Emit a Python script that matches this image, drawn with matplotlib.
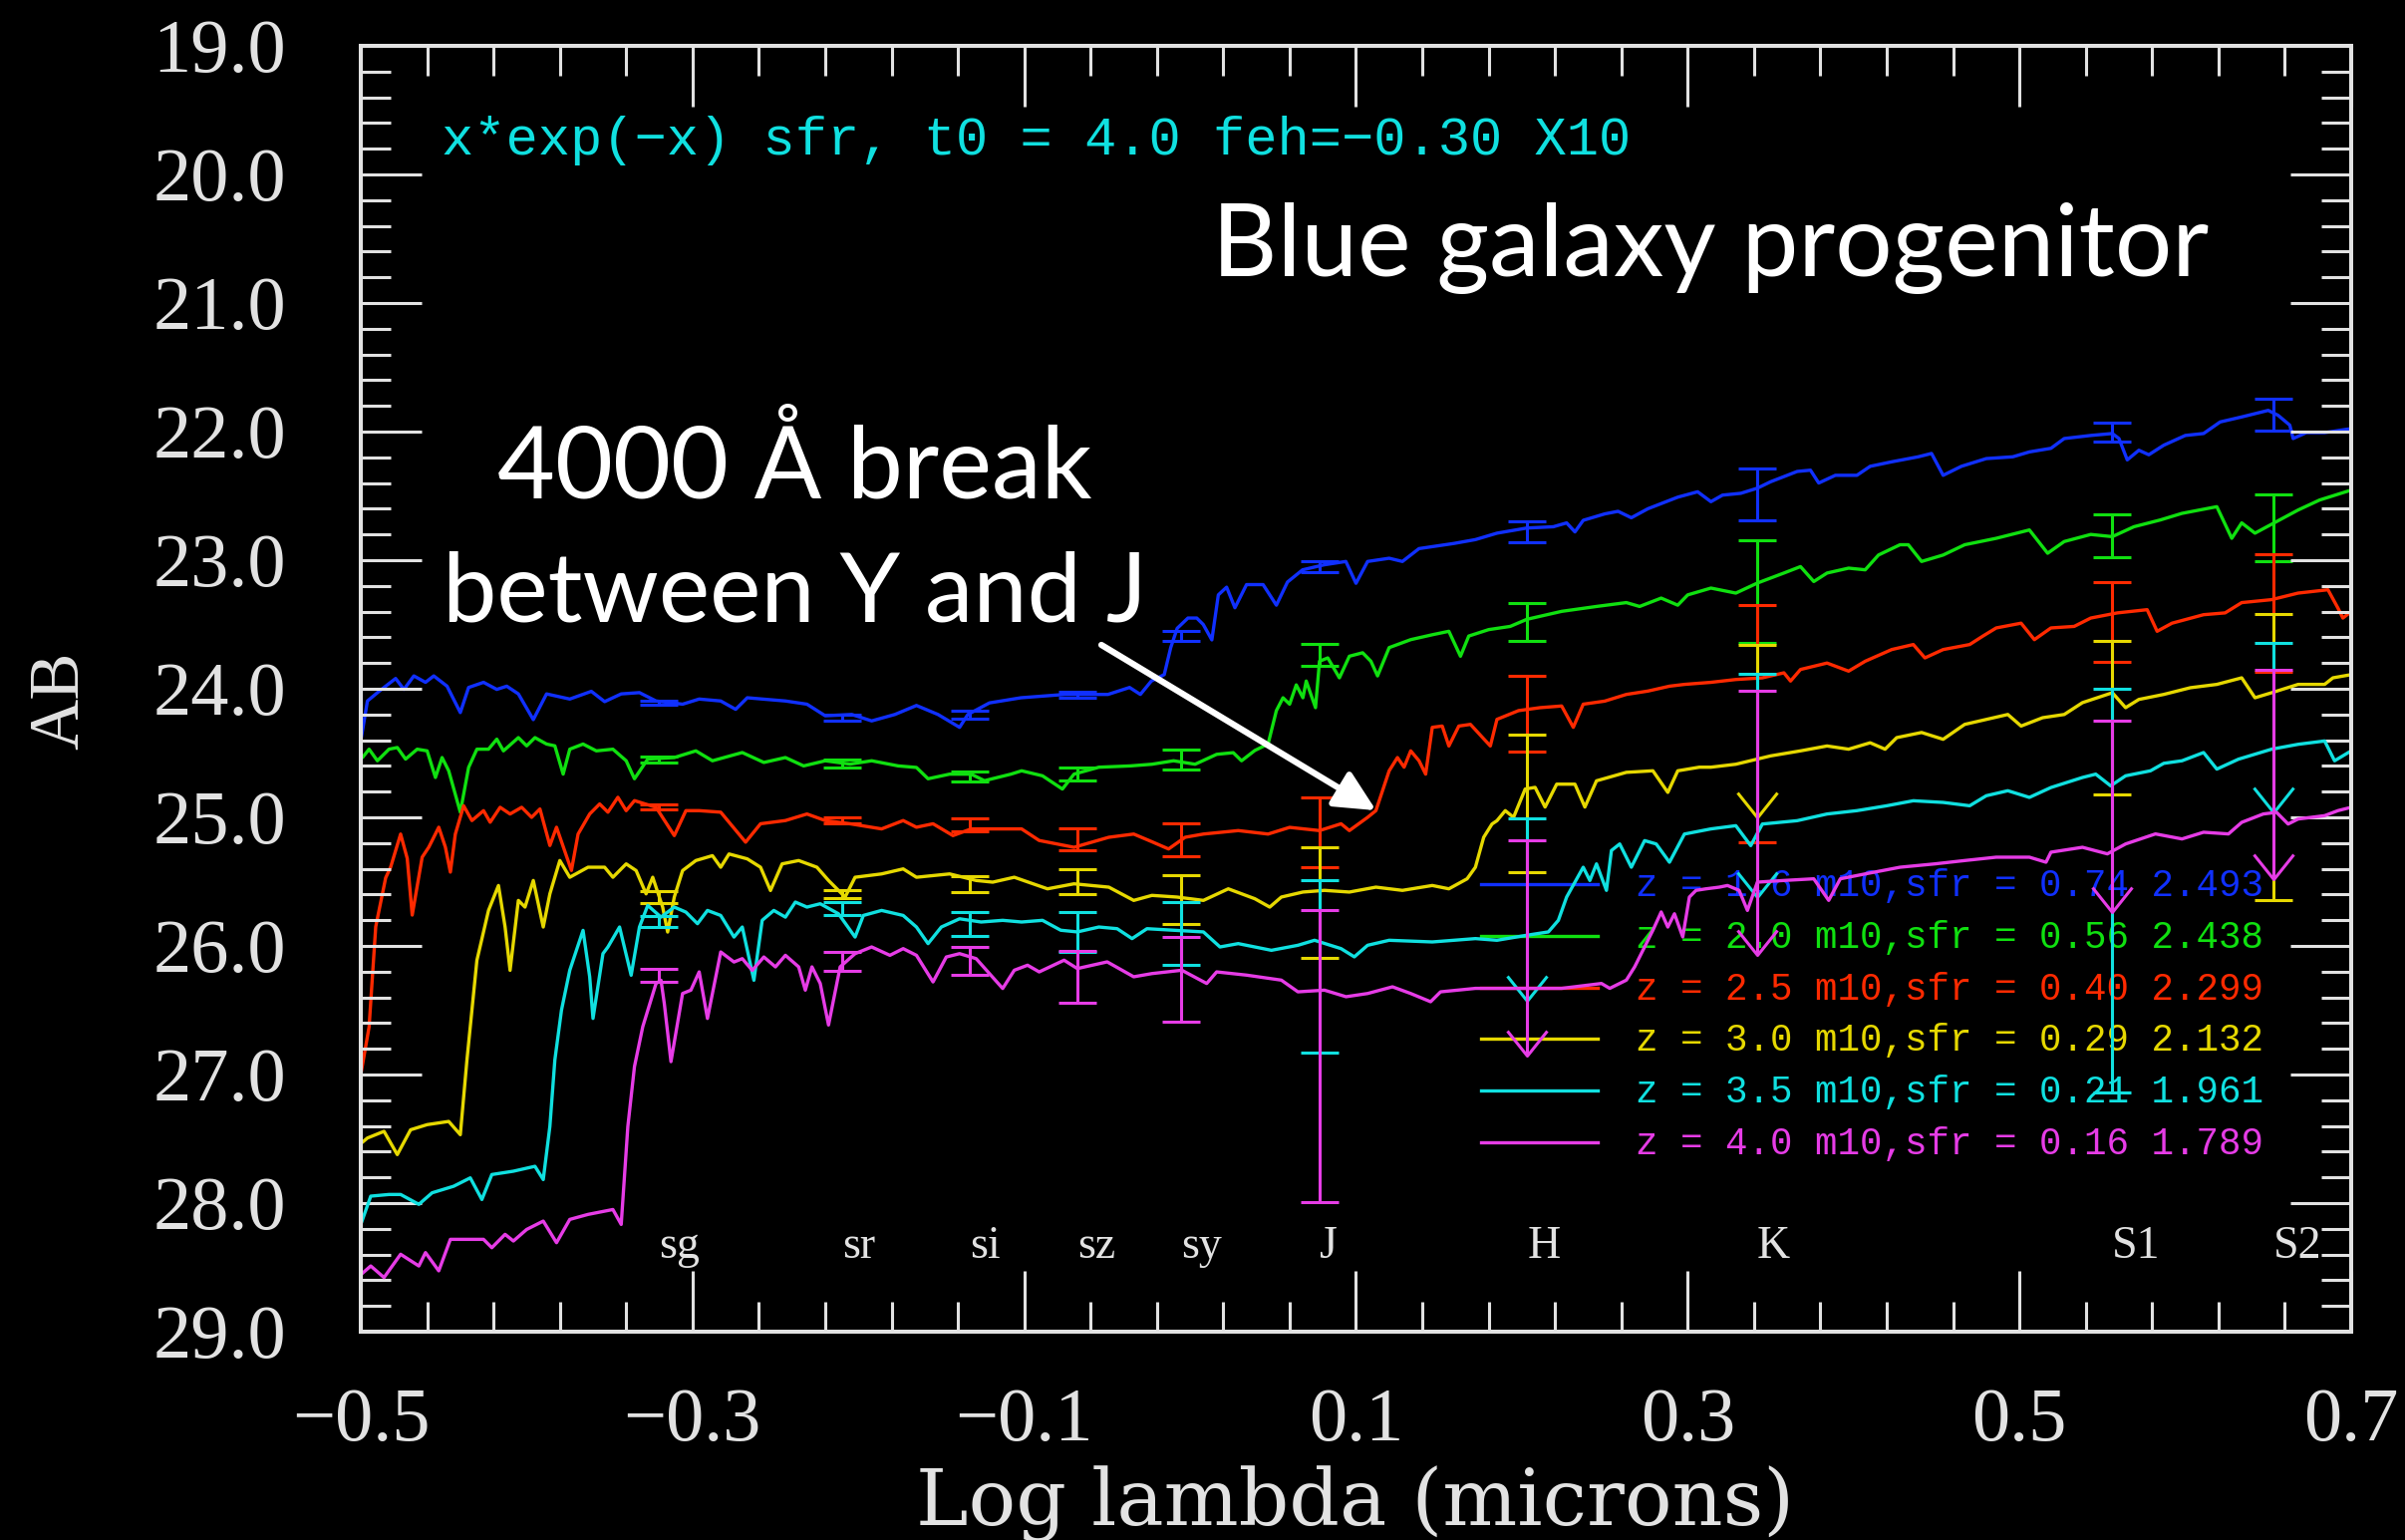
import numpy as np
import matplotlib
matplotlib.use("Agg")
import matplotlib.pyplot as plt
from matplotlib.path import Path
from matplotlib.markers import MarkerStyle
from matplotlib.ticker import FixedLocator, MultipleLocator, FuncFormatter

# ---------------------------------------------------------------- data
redshift = [1.6, 2.0, 2.5, 3.0, 3.5, 4.0]
m10_sfr = [0.74, 0.56, 0.40, 0.29, 0.21, 0.16]
log_sfr = [2.493, 2.438, 2.299, 2.132, 1.961, 1.789]
colors = ["#1030ff", "#10e010", "#ff2a00", "#e6d800", "#10e0e0", "#e63ce6"]

# model spectra: log wavelength (microns) and AB magnitude
z16_lam = [-0.500, -0.496, -0.489, -0.479, -0.474, -0.468, -0.461, -0.456, -0.448, -0.440,
           -0.435, -0.426, -0.418, -0.412, -0.405, -0.396, -0.388, -0.374, -0.361, -0.353,
           -0.343, -0.332, -0.322, -0.306, -0.296, -0.283, -0.274, -0.267, -0.244, -0.231,
           -0.220, -0.204, -0.192, -0.178, -0.165, -0.152, -0.139, -0.134, -0.121, -0.102,
           -0.0755, -0.0495, -0.0365, -0.030, -0.0234, -0.0156, -0.0117, -0.0078, -0.0013, 0.004,
           0.0079, 0.0131, 0.017, 0.022, 0.027, 0.034, 0.044, 0.052, 0.0587, 0.0678,
           0.0808, 0.0939, 0.100, 0.107, 0.120, 0.128, 0.138, 0.159, 0.172, 0.185,
           0.203, 0.219, 0.227, 0.232, 0.237, 0.250, 0.258, 0.266, 0.276, 0.294,
           0.306, 0.314, 0.321, 0.332, 0.342, 0.350, 0.366, 0.374, 0.379, 0.389,
           0.402, 0.410, 0.423, 0.439, 0.447, 0.454, 0.465, 0.480, 0.496, 0.506,
           0.519, 0.527, 0.543, 0.556, 0.560, 0.565, 0.572, 0.578, 0.587, 0.600,
           0.611, 0.621, 0.634, 0.650, 0.656, 0.663, 0.665, 0.673, 0.684, 0.700]
z16_ab = [24.405, 24.095, 24.02, 23.92, 24.005, 23.90, 23.95, 23.90, 23.98, 24.185,
          23.99, 23.95, 24.005, 23.98, 24.04, 24.24, 24.04, 24.08, 24.02, 24.10,
          24.04, 24.03, 24.095, 24.12, 24.08, 24.095, 24.16, 24.07, 24.095, 24.12,
          24.21, 24.20, 24.25, 24.20, 24.13, 24.20, 24.30, 24.20, 24.11, 24.07,
          24.044, 24.044, 23.99, 24.044, 23.94, 23.89, 23.68, 23.53, 23.45, 23.45,
          23.50, 23.62, 23.27, 23.21, 23.37, 23.19, 23.19, 23.35, 23.17, 23.075,
          23.036, 23.01, 23.18, 23.01, 22.985, 23.01, 22.91, 22.87, 22.84, 22.79,
          22.75, 22.74, 22.71, 22.78, 22.69, 22.64, 22.62, 22.67, 22.60, 22.51,
          22.468, 22.545, 22.494, 22.48, 22.44, 22.39, 22.31, 22.30, 22.40, 22.34,
          22.34, 22.27, 22.235, 22.196, 22.17, 22.34, 22.27, 22.21, 22.196, 22.158,
          22.13, 22.054, 22.03, 22.015, 22.054, 22.22, 22.145, 22.18, 22.106, 22.03,
          22.015, 21.925, 21.886, 21.835, 21.874, 21.95, 22.054, 22.008, 22.008, 21.977]

z20_lam = [-0.502, -0.499, -0.495, -0.490, -0.483, -0.478, -0.473, -0.466, -0.460, -0.455,
           -0.451, -0.447, -0.440, -0.435, -0.430, -0.423, -0.418, -0.414, -0.405, -0.400,
           -0.395, -0.388, -0.383, -0.378, -0.374, -0.366, -0.358, -0.348, -0.340, -0.335,
           -0.327, -0.311, -0.298, -0.288, -0.270, -0.257, -0.244, -0.233, -0.220, -0.205,
           -0.192, -0.176, -0.165, -0.158, -0.145, -0.132, -0.124, -0.108, -0.1016, -0.089,
           -0.077, -0.070, -0.055, -0.036, -0.023, -0.010, 0.003, 0.016, 0.026, 0.031,
           0.039, 0.047, 0.052, 0.056, 0.060, 0.064, 0.068, 0.070, 0.0756, 0.078,
           0.083, 0.090, 0.096, 0.104, 0.109, 0.113, 0.120, 0.133, 0.146, 0.156,
           0.163, 0.168, 0.180, 0.193, 0.203, 0.224, 0.245, 0.263, 0.271, 0.284,
           0.294, 0.300, 0.314, 0.329, 0.342, 0.358, 0.368, 0.376, 0.384, 0.397,
           0.407, 0.415, 0.428, 0.433, 0.441, 0.454, 0.467, 0.486, 0.506, 0.517,
           0.527, 0.543, 0.556, 0.569, 0.585, 0.598, 0.619, 0.628, 0.634, 0.642,
           0.655, 0.668, 0.681, 0.700]
z20_ab = [24.457, 24.535, 24.47, 24.56, 24.47, 24.457, 24.547, 24.47, 24.483, 24.69,
          24.535, 24.638, 24.96, 24.612, 24.47, 24.47, 24.392, 24.483, 24.38, 24.444,
          24.38, 24.43, 24.444, 24.664, 24.47, 24.43, 24.483, 24.47, 24.56, 24.70,
          24.547, 24.535, 24.483, 24.56, 24.496, 24.573, 24.535, 24.60, 24.56, 24.586,
          24.56, 24.60, 24.612, 24.70, 24.664, 24.664, 24.715, 24.664, 24.638, 24.677,
          24.78, 24.664, 24.61, 24.60, 24.587, 24.56, 24.587, 24.51, 24.497, 24.56,
          24.48, 24.43, 24.17, 24.07, 24.12, 23.97, 24.07, 23.94, 24.147, 23.786,
          23.76, 23.915, 23.747, 23.72, 23.786, 23.90, 23.68, 23.618, 23.58, 23.553,
          23.747, 23.59, 23.54, 23.515, 23.46, 23.398, 23.36, 23.33, 23.36, 23.295,
          23.35, 23.27, 23.217, 23.256, 23.178, 23.10, 23.05, 23.166, 23.10, 23.062,
          23.075, 22.96, 22.88, 22.88, 23.01, 22.96, 22.88, 22.83, 22.765, 22.946,
          22.855, 22.80, 22.817, 22.74, 22.687, 22.636, 22.584, 22.83, 22.71, 22.79,
          22.70, 22.61, 22.532, 22.455]

z25_lam = [-0.500, -0.495, -0.491, -0.485, -0.482, -0.476, -0.472, -0.469, -0.463, -0.459,
           -0.453, -0.449, -0.446, -0.443, -0.438, -0.433, -0.426, -0.422, -0.416, -0.410,
           -0.403, -0.397, -0.392, -0.386, -0.382, -0.373, -0.369, -0.362, -0.356, -0.351,
           -0.345, -0.340, -0.335, -0.322, -0.311, -0.304, -0.296, -0.283, -0.268, -0.259,
           -0.244, -0.231, -0.220, -0.205, -0.186, -0.173, -0.165, -0.155, -0.143, -0.132,
           -0.116, -0.1016, -0.091, -0.070, -0.049, -0.034, -0.023, -0.013, -0.003, 0.008,
           0.029, 0.047, 0.060, 0.078, 0.091, 0.096, 0.107, 0.112, 0.120, 0.125,
           0.129, 0.133, 0.138, 0.142, 0.146, 0.152, 0.156, 0.162, 0.169, 0.181,
           0.185, 0.198, 0.211, 0.224, 0.231, 0.237, 0.250, 0.263, 0.276, 0.289,
           0.298, 0.314, 0.329, 0.345, 0.358, 0.362, 0.368, 0.384, 0.397, 0.407,
           0.423, 0.436, 0.443, 0.454, 0.470, 0.478, 0.486, 0.501, 0.509, 0.519,
           0.533, 0.543, 0.559, 0.577, 0.583, 0.592, 0.611, 0.624, 0.634, 0.652,
           0.668, 0.686, 0.692, 0.695, 0.700]
z25_ab = [27.0, 26.63, 25.85, 25.47, 25.387, 25.13, 25.32, 25.76, 25.31, 25.232,
          25.077, 25.232, 25.426, 25.13, 24.91, 25.025, 24.948, 25.038, 24.922, 24.974,
          24.922, 25.0, 24.935, 25.219, 25.077, 25.413, 25.13, 24.974, 24.896, 24.96,
          24.844, 24.948, 24.87, 24.922, 25.142, 24.948, 24.948, 24.96, 25.193, 25.05,
          25.025, 24.974, 25.025, 25.05, 25.09, 25.025, 25.077, 25.05, 25.142, 25.09,
          25.09, 25.09, 25.18, 25.233, 25.155, 25.13, 25.19, 25.246, 25.155, 25.13,
          25.103, 25.13, 25.078, 25.103, 25.05, 25.103, 25.0, 24.948, 24.638, 24.535,
          24.61, 24.483, 24.56, 24.664, 24.30, 24.29, 24.445, 24.29, 24.277, 24.445,
          24.238, 24.17, 24.147, 24.134, 24.30, 24.12, 24.096, 24.044, 24.018, 23.98,
          23.966, 23.95, 23.928, 23.915, 23.876, 23.94, 23.85, 23.80, 23.863, 23.786,
          23.695, 23.656, 23.76, 23.695, 23.656, 23.59, 23.527, 23.49, 23.618, 23.527,
          23.515, 23.45, 23.41, 23.385, 23.553, 23.49, 23.424, 23.41, 23.33, 23.307,
          23.256, 23.23, 23.372, 23.45, 23.40]

z30_lam = [-0.502, -0.496, -0.486, -0.478, -0.470, -0.460, -0.447, -0.440, -0.436, -0.430,
           -0.423, -0.417, -0.413, -0.410, -0.405, -0.401, -0.396, -0.390, -0.386, -0.380,
           -0.374, -0.363, -0.353, -0.348, -0.340, -0.334, -0.328, -0.324, -0.318, -0.315,
           -0.311, -0.306, -0.298, -0.288, -0.283, -0.278, -0.267, -0.259, -0.253, -0.246,
           -0.236, -0.225, -0.218, -0.208, -0.202, -0.186, -0.173, -0.165, -0.145, -0.129,
           -0.119, -0.106, -0.086, -0.070, -0.049, -0.034, -0.023, -0.008, 0.008, 0.023,
           0.039, 0.048, 0.055, 0.068, 0.081, 0.096, 0.112, 0.128, 0.146, 0.156,
           0.167, 0.172, 0.177, 0.182, 0.185, 0.190, 0.195, 0.202, 0.208, 0.214,
           0.221, 0.232, 0.238, 0.245, 0.263, 0.279, 0.288, 0.294, 0.307, 0.314,
           0.329, 0.350, 0.368, 0.384, 0.397, 0.410, 0.419, 0.426, 0.441, 0.454,
           0.467, 0.493, 0.501, 0.514, 0.527, 0.538, 0.556, 0.564, 0.572, 0.587,
           0.603, 0.619, 0.634, 0.642, 0.652, 0.668, 0.684, 0.689, 0.700]
z30_ab = [27.559, 27.494, 27.442, 27.623, 27.43, 27.39, 27.365, 27.468, 26.887, 26.112,
          25.724, 25.53, 25.853, 26.19, 25.646, 25.698, 25.491, 25.853, 25.595, 25.336,
          25.466, 25.388, 25.388, 25.466, 25.362, 25.414, 25.595, 25.466, 25.698, 25.892,
          25.62, 25.414, 25.336, 25.298, 25.388, 25.285, 25.323, 25.388, 25.569, 25.362,
          25.336, 25.388, 25.491, 25.62, 25.466, 25.44, 25.401, 25.466, 25.44, 25.491,
          25.504, 25.466, 25.556, 25.517, 25.543, 25.646, 25.607, 25.62, 25.646, 25.556,
          25.633, 25.698, 25.62, 25.581, 25.568, 25.581, 25.543, 25.568, 25.53, 25.556,
          25.478, 25.388, 25.155, 25.052, 25.026, 24.948, 25.0, 24.78, 24.767, 24.92,
          24.742, 24.742, 24.92, 24.716, 24.65, 24.638, 24.806, 24.638, 24.61, 24.61,
          24.587, 24.522, 24.483, 24.445, 24.47, 24.42, 24.47, 24.38, 24.34, 24.393,
          24.277, 24.2, 24.29, 24.225, 24.2, 24.108, 24.031, 24.147, 24.083, 24.044,
          23.992, 23.966, 23.915, 24.07, 24.031, 23.966, 23.966, 23.915, 23.89]

z35_lam = [-0.500, -0.494, -0.483, -0.476, -0.465, -0.457, -0.444, -0.434, -0.427, -0.421,
           -0.408, -0.395, -0.390, -0.386, -0.383, -0.379, -0.374, -0.366, -0.362, -0.360,
           -0.354, -0.351, -0.344, -0.337, -0.332, -0.327, -0.319, -0.311, -0.304, -0.297,
           -0.291, -0.283, -0.275, -0.270, -0.263, -0.258, -0.251, -0.244, -0.238, -0.231,
           -0.223, -0.212, -0.202, -0.197, -0.186, -0.173, -0.165, -0.158, -0.150, -0.139,
           -0.126, -0.113, -0.1016, -0.089, -0.078, -0.068, -0.055, -0.044, -0.035, -0.026,
           -0.010, 0.008, 0.018, 0.029, 0.049, 0.065, 0.075, 0.091, 0.099, 0.107,
           0.120, 0.146, 0.172, 0.185, 0.203, 0.216, 0.222, 0.227, 0.232, 0.237,
           0.241, 0.245, 0.251, 0.254, 0.259, 0.266, 0.274, 0.281, 0.289, 0.298,
           0.314, 0.329, 0.338, 0.345, 0.366, 0.384, 0.402, 0.420, 0.436, 0.454,
           0.470, 0.480, 0.493, 0.506, 0.519, 0.538, 0.546, 0.555, 0.564, 0.579,
           0.587, 0.598, 0.611, 0.619, 0.632, 0.652, 0.668, 0.684, 0.690, 0.700]
z35_ab = [28.166, 27.946, 27.933, 27.933, 28.01, 27.92, 27.869, 27.804, 27.972, 27.778,
          27.752, 27.714, 27.817, 27.403, 26.887, 26.499, 26.189, 25.879, 26.24, 26.564,
          26.06, 26.008, 25.853, 26.228, 25.853, 25.685, 25.776, 25.698, 25.737, 25.827,
          25.724, 25.763, 25.931, 25.853, 26.267, 25.801, 25.724, 25.776, 25.659, 25.698,
          25.672, 25.75, 25.931, 25.763, 25.724, 25.763, 25.853, 25.982, 25.853, 25.789,
          25.814, 25.801, 25.814, 25.801, 25.878, 25.891, 25.853, 25.866, 25.943, 25.866,
          25.878, 25.891, 26.008, 25.982, 26.034, 25.995, 25.956, 26.021, 26.085, 25.995,
          25.956, 25.969, 25.943, 25.956, 25.917, 25.891, 25.801, 25.62, 25.504, 25.388,
          25.491, 25.362, 25.568, 25.258, 25.207, 25.388, 25.181, 25.207, 25.349, 25.13,
          25.09, 25.065, 25.22, 25.052, 25.026, 24.974, 24.948, 24.91, 24.871, 24.884,
          24.91, 24.832, 24.793, 24.845, 24.768, 24.69, 24.664, 24.755, 24.677, 24.638,
          24.58, 24.56, 24.496, 24.625, 24.548, 24.47, 24.432, 24.406, 24.56, 24.483]

z40_lam = [-0.502, -0.494, -0.486, -0.476, -0.465, -0.461, -0.453, -0.446, -0.426, -0.421,
           -0.413, -0.408, -0.400, -0.390, -0.382, -0.374, -0.363, -0.348, -0.343, -0.339,
           -0.335, -0.330, -0.322, -0.319, -0.317, -0.313, -0.306, -0.301, -0.296, -0.291,
           -0.283, -0.275, -0.270, -0.264, -0.257, -0.250, -0.244, -0.236, -0.232, -0.228,
           -0.223, -0.218, -0.211, -0.202, -0.192, -0.181, -0.173, -0.165, -0.155, -0.147,
           -0.139, -0.129, -0.121, -0.113, -0.106, -0.098, -0.091, -0.076, -0.068, -0.050,
           -0.034, -0.023, -0.005, 0.010, 0.016, 0.034, 0.055, 0.065, 0.081, 0.094,
           0.107, 0.122, 0.133, 0.145, 0.151, 0.172, 0.198, 0.224, 0.248, 0.253,
           0.263, 0.268, 0.274, 0.279, 0.284, 0.288, 0.292, 0.297, 0.301, 0.305,
           0.311, 0.319, 0.324, 0.331, 0.336, 0.342, 0.358, 0.376, 0.385, 0.392,
           0.407, 0.428, 0.449, 0.467, 0.486, 0.506, 0.516, 0.519, 0.538, 0.553,
           0.564, 0.582, 0.598, 0.611, 0.626, 0.634, 0.647, 0.655, 0.662, 0.668,
           0.684, 0.692, 0.700]
z40_ab = [28.579, 28.489, 28.579, 28.398, 28.489, 28.385, 28.527, 28.282, 28.282, 28.347,
          28.243, 28.295, 28.205, 28.14, 28.308, 28.127, 28.088, 28.05, 28.166, 27.404,
          26.938, 26.628, 26.292, 26.267, 26.45, 26.90, 26.37, 26.344, 26.202, 26.564,
          26.047, 26.125, 26.099, 26.19, 26.086, 26.163, 26.073, 26.163, 26.344, 26.163,
          26.292, 26.615, 26.163, 26.06, 26.008, 26.073, 26.021, 26.073, 26.28, 26.086,
          26.06, 26.099, 26.215, 26.331, 26.189, 26.15, 26.202, 26.111, 26.176, 26.124,
          26.24, 26.215, 26.189, 26.292, 26.202, 26.227, 26.266, 26.357, 26.344, 26.395,
          26.37, 26.318, 26.37, 26.434, 26.357, 26.33, 26.33, 26.33, 26.292, 26.33,
          26.266, 26.163, 26.008, 25.878, 25.736, 25.853, 25.75, 25.93, 25.62, 25.568,
          25.556, 25.543, 25.53, 25.568, 25.724, 25.504, 25.491, 25.478, 25.646, 25.478,
          25.44, 25.388, 25.362, 25.336, 25.31, 25.31, 25.349, 25.271, 25.233, 25.284,
          25.207, 25.129, 25.168, 25.116, 25.129, 25.039, 24.974, 24.961, 25.052, 25.013,
          24.987, 24.948, 24.922]

# broadband photometry
filter_names = ["sg", "sr", "si", "sz", "sy", "J", "H", "K", "S1", "S2"]
filter_loglam = [-0.3205, -0.2097, -0.133, -0.0677, -0.0052, 0.0782, 0.2033, 0.3418, 0.556, 0.653]

phot_z16 = [24.11, 24.225, 24.20, 24.045, 23.59, 23.05, 22.78, 22.49, 22.005, 21.867]
err_z16 = [0.015, 0.025, 0.03, 0.025, 0.04, 0.04, 0.08, 0.20, 0.075, 0.123]
lim_z16 = [0, 0, 0, 0, 0, 0, 0, 0, 0, 0]

phot_z20 = [24.55, 24.58, 24.68, 24.66, 24.55, 23.74, 23.48, 23.246, 22.81, 22.75]
err_z20 = [0.02, 0.03, 0.04, 0.05, 0.08, 0.085, 0.15, 0.40, 0.17, 0.26]
lim_z20 = [0, 0, 0, 0, 0, 0, 0, 0, 0, 0]

phot_z25 = [24.92, 25.025, 25.06, 25.174, 25.176, 25.117, 24.195, 24.27, 23.48, 23.41]
err_z25 = [0.02, 0.025, 0.05, 0.085, 0.13, 0.27, 0.295, 0.92, 0.31, 0.46]
lim_z25 = [0, 0, 0, 0, 0, 0, 0, 0, 0, 0]

phot_z30 = [25.62, 25.595, 25.52, 25.50, 25.64, 25.665, 24.895, 24.33, 24.225, 24.53]
err_z30 = [0.045, 0.03, 0.06, 0.10, 0.19, 0.43, 0.535, 0.67, 0.595, 1.11]
lim_z30 = [0, 0, 0, 0, 0, 0, 0, 1, 0, 0]

phot_z35 = [25.81, 25.71, 25.83, 25.89, 25.905, 26.16, 25.72, 24.75, 25.57, 24.30]
err_z35 = [0.045, 0.05, 0.09, 0.155, 0.245, 0.67, 0.71, 0.87, 1.57, 0.66]
lim_z35 = [0, 0, 0, 0, 0, 0, 1, 1, 0, 1]

phot_z40 = [26.23, 26.12, 26.115, 26.24, 26.26, 26.857, 26.015, 25.044, 24.995, 24.665]
err_z40 = [0.05, 0.07, 0.11, 0.20, 0.33, 1.135, 0.835, 1.026, 0.745, 0.815]
lim_z40 = [0, 0, 0, 0, 0, 0, 1, 1, 1, 1]

spectra = [(z16_lam, z16_ab), (z20_lam, z20_ab), (z25_lam, z25_ab),
           (z30_lam, z30_ab), (z35_lam, z35_ab), (z40_lam, z40_ab)]
photometry = [(phot_z16, err_z16, lim_z16), (phot_z20, err_z20, lim_z20),
              (phot_z25, err_z25, lim_z25), (phot_z30, err_z30, lim_z30),
              (phot_z35, err_z35, lim_z35), (phot_z40, err_z40, lim_z40)]

# ---------------------------------------------------------------- styling
FG = "#e2e2e2"
TICK_FONT = "Liberation Serif"
MONO = ["Liberation Mono", "DejaVu Sans Mono"]
SANS = ["Lato", "DejaVu Sans"]

fig = plt.figure(figsize=(24.13, 15.45), dpi=100, facecolor="black")
ax = fig.add_axes([0.15002, 0.13528, 0.82760, 0.83495], facecolor="black")

ax.set_xlim(-0.5, 0.7)
ax.set_ylim(29.0, 19.0)

for sp in ax.spines.values():
    sp.set_color(FG)
    sp.set_linewidth(2.9)

ax.xaxis.set_major_locator(FixedLocator([-0.5, -0.3, -0.1, 0.1, 0.3, 0.5, 0.7]))
ax.xaxis.set_minor_locator(MultipleLocator(0.04, offset=0.02))
ax.yaxis.set_major_locator(MultipleLocator(1.0))
ax.yaxis.set_minor_locator(MultipleLocator(0.2))
ax.xaxis.set_major_formatter(FuncFormatter(lambda v, p: f"{v:.1f}".replace("-", "\u2212")))
ax.yaxis.set_major_formatter(FuncFormatter(lambda v, p: f"{v:.1f}"))

ax.tick_params(which="both", direction="in", top=True, right=True, color=FG, width=2.2)
ax.tick_params(which="major", length=44)
ax.tick_params(which="minor", length=21.6)
ax.tick_params(axis="x", which="major", pad=40, labelsize=55, labelcolor=FG)
ax.tick_params(axis="y", which="major", pad=54, labelsize=55, labelcolor=FG)
for lab in ax.get_xticklabels() + ax.get_yticklabels():
    lab.set_family(TICK_FONT)

ax.set_xlabel("Log lambda (microns)", fontsize=57, family="DejaVu Serif", color=FG)
ax.xaxis.set_label_coords(0.4995, -0.1504)
ax.xaxis.label.set_va("baseline")
ax.set_ylabel("AB", fontsize=51, family=TICK_FONT, color=FG)
ax.yaxis.set_label_coords(-0.1507, 0.491)
ax.yaxis.label.set_va("center")

# open downward "V" used for upper-limit arrows
v_marker = MarkerStyle(Path([(-1.0, 1.25), (0.0, 0.0), (1.0, 1.25)],
                            [Path.MOVETO, Path.LINETO, Path.LINETO]))

fx = np.array(filter_loglam)
for i, ((lam, ab), (mag, err, lim), col) in enumerate(zip(spectra, photometry, colors)):
    zo = 1.0 + 0.2 * i
    ax.plot(lam, ab, color=col, lw=2.4, zorder=zo, solid_joinstyle="round")

    mag = np.array(mag)
    err = np.array(err)
    lim = np.array(lim, dtype=bool)
    ax.errorbar(fx[~lim], mag[~lim], yerr=err[~lim], fmt="none", ecolor=col,
                elinewidth=2.2, capsize=14, capthick=2.2, zorder=zo)
    if lim.any():
        ax.vlines(fx[lim], mag[lim] - err[lim], mag[lim] + err[lim], colors=col,
                  lw=2.2, zorder=zo)
        ax.plot(fx[lim], mag[lim] - err[lim], ls="none", marker="_", ms=28, mew=2.2,
                color=col, zorder=zo)
        ax.plot(fx[lim], mag[lim] + err[lim], ls="none", marker=v_marker, ms=36,
                mew=2.2, mfc="none", mec=col, zorder=zo)

    # key entry
    row = 0.3481 - 0.04016 * i
    ax.plot([0.5626, 0.6212], [row, row], transform=ax.transAxes, color=col, lw=2.4,
            zorder=zo)
    label = f"z = {redshift[i]:.1f} m10,sfr = {m10_sfr[i]:.2f} {log_sfr[i]:.3f}"
    ax.text(0.6407, row - 0.0093, label, transform=ax.transAxes, color=col,
            fontsize=27, family=MONO, ha="left", va="baseline", zorder=zo)

# filter names
for name, x in zip(filter_names, filter_loglam):
    ax.text(x, 28.43, name, fontsize=33, family=TICK_FONT, color=FG,
            ha="left", va="baseline", zorder=3)

# model description
ax.text(0.0406, 0.9155, "x*exp(\u2212x) sfr, t0 = 4.0 feh=\u22120.30 X10",
        transform=ax.transAxes, fontsize=38.7, family=MONO, color=colors[4],
        ha="left", va="baseline", zorder=3)

# annotations
ax.text(0.4276, 0.8209, "Blue galaxy progenitor", transform=ax.transAxes,
        fontsize=73, family=SANS, color="white", ha="left", va="baseline", zorder=4)
ax.text(0.2178, 0.6481, "4000 \u00c5 break", transform=ax.transAxes,
        fontsize=72, family=SANS, color="white", ha="center", va="baseline", zorder=4)
ax.text(0.2178, 0.5527, "between Y and J", transform=ax.transAxes,
        fontsize=70, family=SANS, color="white", ha="center", va="baseline", zorder=4)
ax.annotate("", xy=(0.1121, 24.946), xytext=(-0.0535, 23.659),
            arrowprops=dict(arrowstyle="-|>,head_length=0.45,head_width=0.22",
                            mutation_scale=55, lw=4.5, color="white",
                            shrinkA=0, shrinkB=0),
            zorder=4)

fig.savefig("out.png", dpi=100, facecolor="black")
